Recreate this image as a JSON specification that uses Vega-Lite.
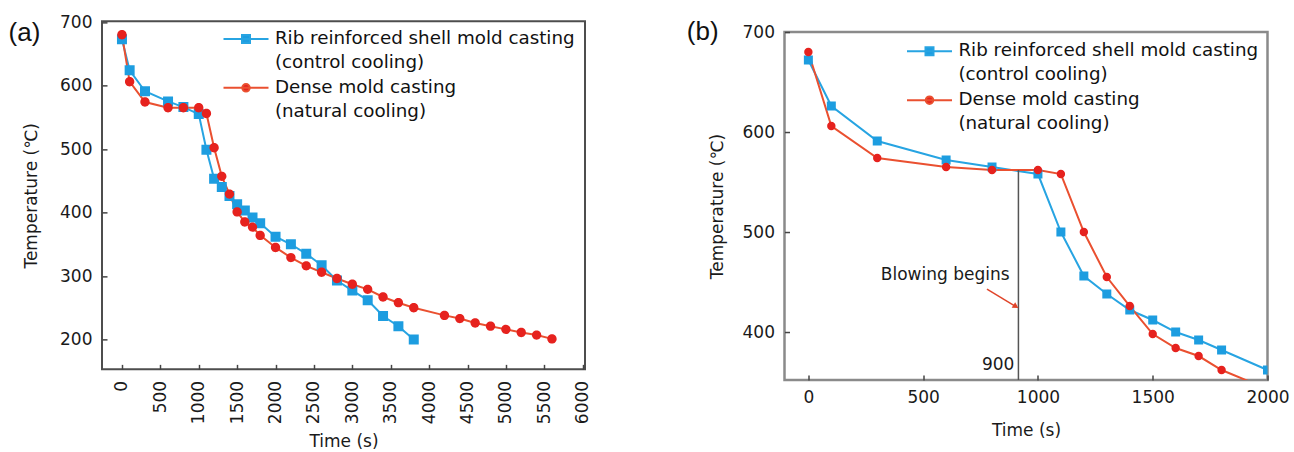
{
  "$schema": "https://vega.github.io/schema/vega-lite/v6.json",
  "padding": {"left": 7, "top": 12, "right": 0, "bottom": 0},
  "config": {
    "font": "DejaVu Sans",
    "axis": {"grid": false, "domain": false, "ticks": true, "tickSize": -5, "tickColor": "#444", "tickWidth": 1.5, "labelFontSize": 17, "labelColor": "#1a1a1a", "titleFontSize": 17, "titleFontWeight": "normal", "titleColor": "#1a1a1a", "labelPadding": 15, "labelFlush": false, "labelOverlap": false, "format": "d"},
    "legend": {"orient": "none", "labelFontSize": 18.3, "labelColor": "#111", "labelLimit": 0, "labelOffset": 15.4, "symbolSize": 625, "symbolStrokeWidth": 2, "rowPadding": 2.8, "padding": 0},
    "style": {"guide-label": {"lineHeight": 24}}
  },
  "datasets": {
    "panel_a": [
      {"series": "Rib reinforced shell mold casting (control cooling)", "time": 0, "temp": 673},
      {"series": "Rib reinforced shell mold casting (control cooling)", "time": 100, "temp": 624},
      {"series": "Rib reinforced shell mold casting (control cooling)", "time": 300, "temp": 591},
      {"series": "Rib reinforced shell mold casting (control cooling)", "time": 600, "temp": 575},
      {"series": "Rib reinforced shell mold casting (control cooling)", "time": 800, "temp": 566},
      {"series": "Rib reinforced shell mold casting (control cooling)", "time": 1000, "temp": 555},
      {"series": "Rib reinforced shell mold casting (control cooling)", "time": 1100, "temp": 499},
      {"series": "Rib reinforced shell mold casting (control cooling)", "time": 1200, "temp": 453},
      {"series": "Rib reinforced shell mold casting (control cooling)", "time": 1300, "temp": 440},
      {"series": "Rib reinforced shell mold casting (control cooling)", "time": 1400, "temp": 426},
      {"series": "Rib reinforced shell mold casting (control cooling)", "time": 1500, "temp": 413},
      {"series": "Rib reinforced shell mold casting (control cooling)", "time": 1600, "temp": 403},
      {"series": "Rib reinforced shell mold casting (control cooling)", "time": 1700, "temp": 392},
      {"series": "Rib reinforced shell mold casting (control cooling)", "time": 1800, "temp": 383},
      {"series": "Rib reinforced shell mold casting (control cooling)", "time": 2000, "temp": 362},
      {"series": "Rib reinforced shell mold casting (control cooling)", "time": 2200, "temp": 350},
      {"series": "Rib reinforced shell mold casting (control cooling)", "time": 2400, "temp": 335},
      {"series": "Rib reinforced shell mold casting (control cooling)", "time": 2600, "temp": 317},
      {"series": "Rib reinforced shell mold casting (control cooling)", "time": 2800, "temp": 293},
      {"series": "Rib reinforced shell mold casting (control cooling)", "time": 3000, "temp": 277},
      {"series": "Rib reinforced shell mold casting (control cooling)", "time": 3200, "temp": 262},
      {"series": "Rib reinforced shell mold casting (control cooling)", "time": 3400, "temp": 237},
      {"series": "Rib reinforced shell mold casting (control cooling)", "time": 3600, "temp": 221},
      {"series": "Rib reinforced shell mold casting (control cooling)", "time": 3800, "temp": 200},
      {"series": "Dense mold casting (natural cooling)", "time": 0, "temp": 680},
      {"series": "Dense mold casting (natural cooling)", "time": 100, "temp": 606},
      {"series": "Dense mold casting (natural cooling)", "time": 300, "temp": 574},
      {"series": "Dense mold casting (natural cooling)", "time": 600, "temp": 565},
      {"series": "Dense mold casting (natural cooling)", "time": 800, "temp": 565},
      {"series": "Dense mold casting (natural cooling)", "time": 1000, "temp": 565},
      {"series": "Dense mold casting (natural cooling)", "time": 1100, "temp": 556},
      {"series": "Dense mold casting (natural cooling)", "time": 1200, "temp": 502},
      {"series": "Dense mold casting (natural cooling)", "time": 1300, "temp": 457},
      {"series": "Dense mold casting (natural cooling)", "time": 1400, "temp": 429},
      {"series": "Dense mold casting (natural cooling)", "time": 1500, "temp": 401},
      {"series": "Dense mold casting (natural cooling)", "time": 1600, "temp": 385},
      {"series": "Dense mold casting (natural cooling)", "time": 1700, "temp": 377},
      {"series": "Dense mold casting (natural cooling)", "time": 1800, "temp": 364},
      {"series": "Dense mold casting (natural cooling)", "time": 2000, "temp": 345},
      {"series": "Dense mold casting (natural cooling)", "time": 2200, "temp": 329},
      {"series": "Dense mold casting (natural cooling)", "time": 2400, "temp": 316},
      {"series": "Dense mold casting (natural cooling)", "time": 2600, "temp": 306},
      {"series": "Dense mold casting (natural cooling)", "time": 2800, "temp": 296},
      {"series": "Dense mold casting (natural cooling)", "time": 3000, "temp": 287},
      {"series": "Dense mold casting (natural cooling)", "time": 3200, "temp": 279},
      {"series": "Dense mold casting (natural cooling)", "time": 3400, "temp": 267},
      {"series": "Dense mold casting (natural cooling)", "time": 3600, "temp": 258},
      {"series": "Dense mold casting (natural cooling)", "time": 3800, "temp": 250},
      {"series": "Dense mold casting (natural cooling)", "time": 4200, "temp": 238},
      {"series": "Dense mold casting (natural cooling)", "time": 4400, "temp": 233},
      {"series": "Dense mold casting (natural cooling)", "time": 4600, "temp": 226},
      {"series": "Dense mold casting (natural cooling)", "time": 4800, "temp": 221},
      {"series": "Dense mold casting (natural cooling)", "time": 5000, "temp": 216},
      {"series": "Dense mold casting (natural cooling)", "time": 5200, "temp": 211},
      {"series": "Dense mold casting (natural cooling)", "time": 5400, "temp": 207},
      {"series": "Dense mold casting (natural cooling)", "time": 5600, "temp": 201}
    ],
    "panel_b": [
      {"series": "Rib reinforced shell mold casting (control cooling)", "time": 0, "temp": 672},
      {"series": "Rib reinforced shell mold casting (control cooling)", "time": 100, "temp": 626},
      {"series": "Rib reinforced shell mold casting (control cooling)", "time": 300, "temp": 591},
      {"series": "Rib reinforced shell mold casting (control cooling)", "time": 600, "temp": 572},
      {"series": "Rib reinforced shell mold casting (control cooling)", "time": 800, "temp": 565},
      {"series": "Rib reinforced shell mold casting (control cooling)", "time": 1000, "temp": 558},
      {"series": "Rib reinforced shell mold casting (control cooling)", "time": 1100, "temp": 500},
      {"series": "Rib reinforced shell mold casting (control cooling)", "time": 1200, "temp": 456},
      {"series": "Rib reinforced shell mold casting (control cooling)", "time": 1300, "temp": 438},
      {"series": "Rib reinforced shell mold casting (control cooling)", "time": 1400, "temp": 422},
      {"series": "Rib reinforced shell mold casting (control cooling)", "time": 1500, "temp": 412},
      {"series": "Rib reinforced shell mold casting (control cooling)", "time": 1600, "temp": 400},
      {"series": "Rib reinforced shell mold casting (control cooling)", "time": 1700, "temp": 392},
      {"series": "Rib reinforced shell mold casting (control cooling)", "time": 1800, "temp": 382},
      {"series": "Rib reinforced shell mold casting (control cooling)", "time": 2000, "temp": 362},
      {"series": "Dense mold casting (natural cooling)", "time": 0, "temp": 680},
      {"series": "Dense mold casting (natural cooling)", "time": 100, "temp": 606},
      {"series": "Dense mold casting (natural cooling)", "time": 300, "temp": 574},
      {"series": "Dense mold casting (natural cooling)", "time": 600, "temp": 565},
      {"series": "Dense mold casting (natural cooling)", "time": 800, "temp": 562},
      {"series": "Dense mold casting (natural cooling)", "time": 1000, "temp": 562},
      {"series": "Dense mold casting (natural cooling)", "time": 1100, "temp": 558},
      {"series": "Dense mold casting (natural cooling)", "time": 1200, "temp": 500},
      {"series": "Dense mold casting (natural cooling)", "time": 1300, "temp": 455},
      {"series": "Dense mold casting (natural cooling)", "time": 1400, "temp": 426},
      {"series": "Dense mold casting (natural cooling)", "time": 1500, "temp": 398},
      {"series": "Dense mold casting (natural cooling)", "time": 1600, "temp": 384},
      {"series": "Dense mold casting (natural cooling)", "time": 1700, "temp": 376},
      {"series": "Dense mold casting (natural cooling)", "time": 1800, "temp": 362},
      {"series": "Dense mold casting (natural cooling)", "time": 2000, "temp": 343}
    ],
    "blowing_rule": [{"time": 915, "temp": 352, "temp2": 562}],
    "blowing_text": [
      {"time": 915, "temp": 367, "label": "900"},
      {"time": 894, "temp": 457, "label": "Blowing begins"}
    ],
    "blowing_arrow": [{"time": 778, "temp": 443, "time2": 904, "temp2": 425.5}]
  },
  "hconcat": [
    {
      "width": 483,
      "height": 348,
      "view": {"stroke": "#4d4d4d", "strokeWidth": 2},
      "title": {"text": "(a)", "anchor": "start", "frame": "group", "orient": "top", "offset": 0, "baseline": "top", "dx": -93.4, "dy": 32.9, "font": "Liberation Sans", "fontSize": 26, "fontWeight": "normal", "color": "#111"},
      "data": {"name": "panel_a"},
      "encoding": {
        "x": {"field": "time", "type": "quantitative", "scale": {"domain": [-260, 6030], "nice": false, "zero": false}, "axis": {"title": "Time (s)", "values": [0, 500, 1000, 1500, 2000, 2500, 3000, 3500, 4000, 4500, 5000, 5500, 6000], "labelAngle": -90, "labelPadding": 16, "titlePadding": 10}},
        "y": {"field": "temp", "type": "quantitative", "scale": {"domain": [153, 701], "nice": false, "zero": false}, "axis": {"title": "Temperature (℃)", "values": [200, 300, 400, 500, 600, 700], "titlePadding": 19}}
      },
      "layer": [
        {"mark": {"type": "line", "strokeWidth": 2},
         "encoding": {
           "stroke": {"field": "series", "type": "nominal", "scale": {"domain": ["Rib reinforced shell mold casting (control cooling)", "Dense mold casting (natural cooling)"], "range": ["#27a4e2", "#ea5030"]},
             "legend": {"legendX": 130.5, "legendY": 4.1, "title": null, "labelExpr": "[slice(datum.label, 0, indexof(datum.label, ' (')), slice(datum.label, indexof(datum.label, ' (') + 1)]"}}
         }},
        {"mark": {"type": "point", "filled": true, "opacity": 1, "size": 975, "strokeWidth": 0},
         "encoding": {
           "fill": {"field": "series", "type": "nominal", "scale": {"domain": ["Rib reinforced shell mold casting (control cooling)", "Dense mold casting (natural cooling)"], "range": ["#1d9de0", "#e6221e"]},
             "legend": {"legendX": 130.5, "legendY": 4.1, "title": null, "labelExpr": "[slice(datum.label, 0, indexof(datum.label, ' (')), slice(datum.label, indexof(datum.label, ' (') + 1)]"}},
           "shape": {"field": "series", "type": "nominal", "scale": {"domain": ["Rib reinforced shell mold casting (control cooling)", "Dense mold casting (natural cooling)"], "range": ["M-1.8,0L1.8,0M-0.32,-0.32L0.32,-0.32L0.32,0.32L-0.32,0.32Z", "M-1.8,0L1.8,0M0.3,0A0.3,0.3,0,1,1,-0.3,0A0.3,0.3,0,1,1,0.3,0Z"]},
             "legend": {"legendX": 130.5, "legendY": 4.1, "title": null, "labelExpr": "[slice(datum.label, 0, indexof(datum.label, ' (')), slice(datum.label, indexof(datum.label, ' (') + 1)]"}}
         }}
      ]
    },
    {
      "width": 483,
      "height": 348,
      "view": {"stroke": "#8a8a8a", "strokeWidth": 2.5},
      "title": {"text": "(b)", "anchor": "start", "frame": "group", "orient": "top", "offset": 0, "baseline": "top", "dx": -97.7, "dy": 21.9, "font": "Liberation Sans", "fontSize": 26, "fontWeight": "normal", "color": "#111"},
      "encoding": {
        "x": {"field": "time", "type": "quantitative", "scale": {"domain": [-104, 2000], "nice": false, "zero": false}, "axis": {"title": "Time (s)", "values": [0, 500, 1000, 1500, 2000], "labelAngle": 0, "labelPadding": 14.7, "titlePadding": 17}},
        "y": {"field": "temp", "type": "quantitative", "scale": {"domain": [352, 700], "nice": false, "zero": false}, "axis": {"title": "Temperature (℃)", "values": [400, 500, 600, 700], "titlePadding": 16}}
      },
      "layer": [
        {"data": {"name": "panel_b"},
         "mark": {"type": "line", "strokeWidth": 2, "clip": true},
         "encoding": {
           "stroke": {"field": "series", "type": "nominal", "scale": {"domain": ["Rib reinforced shell mold casting (control cooling)", "Dense mold casting (natural cooling)"], "range": ["#27a4e2", "#ea5030"]},
             "legend": {"legendX": 131.5, "legendY": 5.8, "title": null, "labelExpr": "[slice(datum.label, 0, indexof(datum.label, ' (')), slice(datum.label, indexof(datum.label, ' (') + 1)]"}}
         }},
        {"data": {"name": "panel_b"},
         "mark": {"type": "point", "filled": true, "opacity": 1, "size": 790, "strokeWidth": 0, "clip": true},
         "encoding": {
           "fill": {"field": "series", "type": "nominal", "scale": {"domain": ["Rib reinforced shell mold casting (control cooling)", "Dense mold casting (natural cooling)"], "range": ["#1d9de0", "#e6221e"]},
             "legend": {"legendX": 131.5, "legendY": 5.8, "title": null, "labelExpr": "[slice(datum.label, 0, indexof(datum.label, ' (')), slice(datum.label, indexof(datum.label, ' (') + 1)]"}},
           "shape": {"field": "series", "type": "nominal", "scale": {"domain": ["Rib reinforced shell mold casting (control cooling)", "Dense mold casting (natural cooling)"], "range": ["M-1.8,0L1.8,0M-0.32,-0.32L0.32,-0.32L0.32,0.32L-0.32,0.32Z", "M-1.8,0L1.8,0M0.3,0A0.3,0.3,0,1,1,-0.3,0A0.3,0.3,0,1,1,0.3,0Z"]},
             "legend": {"legendX": 131.5, "legendY": 5.8, "title": null, "labelExpr": "[slice(datum.label, 0, indexof(datum.label, ' (')), slice(datum.label, indexof(datum.label, ' (') + 1)]"}}
         }},
        {"data": {"name": "blowing_rule"},
         "mark": {"type": "rule", "color": "#555", "strokeWidth": 1.5},
         "encoding": {"y2": {"field": "temp2"}}},
        {"data": {"name": "blowing_text"},
         "mark": {"type": "text", "align": "right", "baseline": "middle", "dx": -4, "fontSize": 17, "color": "#1a1a1a"},
         "encoding": {"text": {"field": "label"}}},
        {"data": {"name": "blowing_arrow"},
         "mark": {"type": "rule", "color": "#e0452a", "strokeWidth": 1.5},
         "encoding": {"x2": {"field": "time2"}, "y2": {"field": "temp2"}}},
        {"data": {"name": "blowing_arrow"},
         "mark": {"type": "point", "shape": "triangle-right", "angle": 31.5, "filled": true, "opacity": 1, "color": "#e0452a", "size": 45},
         "encoding": {"x": {"field": "time2", "type": "quantitative"}, "y": {"field": "temp2", "type": "quantitative"}}}
      ]
    }
  ],
  "spacing": 93.5,
  "center": true,
  "resolve": {"scale": {"fill": "independent", "stroke": "independent", "shape": "independent"}, "legend": {"fill": "independent", "stroke": "independent", "shape": "independent"}}
}
